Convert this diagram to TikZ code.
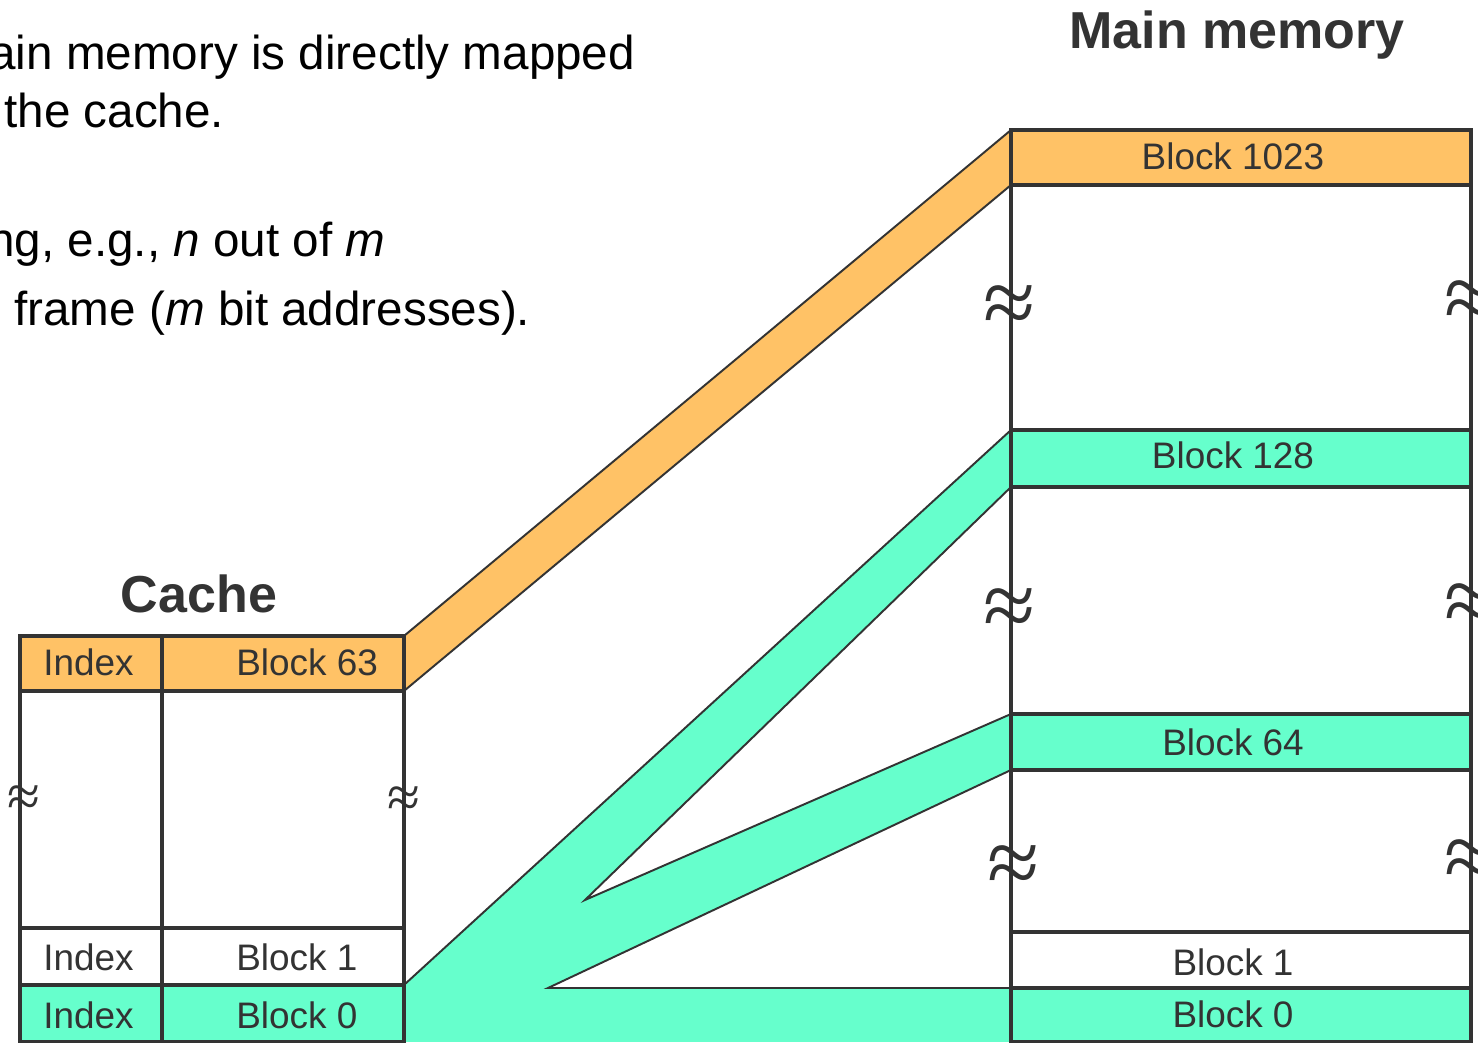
\documentclass[tikz,border=0pt]{standalone}
\usepackage{fontspec}
\setmainfont{Liberation Sans}
\newfontfamily\breakfont{Liberation Serif}
\definecolor{ink}{HTML}{333333}
\definecolor{hotblock}{HTML}{FFC266}
\definecolor{mapblock}{HTML}{66FFCC}
\pgfdeclarelayer{bg}
\pgfsetlayers{bg,main}
\begin{document}
\begin{tikzpicture}[x=0.02cm,y=-0.02cm,
  cell/.style={rectangle,draw=ink,line width=2pt,inner sep=0pt,outer sep=0pt,anchor=north west},
  memcell/.style={cell,minimum width=9.2cm},
  idxcell/.style={cell,minimum width=2.84cm},
  blkcell/.style={cell,minimum width=4.84cm},
  band/.style={draw=ink,line width=1.1pt},
  lbl/.style={text=ink,font=\fontsize{21}{25}\selectfont,inner sep=0pt},
  title/.style={text=ink,font=\bfseries\fontsize{29.6}{35}\selectfont,inner sep=0pt,anchor=base},
  prose/.style={text=black,font=\fontsize{27.1}{32}\selectfont,inner sep=0pt,anchor=base west},
  breakbig/.style={text=ink,font=\breakfont\fontsize{54}{54}\selectfont,inner sep=0pt},
  breaksmall/.style={text=ink,font=\breakfont\fontsize{34}{34}\selectfont,inner sep=0pt}]

\path[use as bounding box] (0,0) rectangle (1478,1043);

% ---------- main memory column ----------
\node[memcell,fill=hotblock,minimum height=1.1cm]  (m1023) at (1011,130) {};
\node[memcell,minimum height=4.9cm]                (mgapA) at (1011,185) {};
\node[memcell,fill=mapblock,minimum height=1.14cm] (m128)  at (1011,430) {};
\node[memcell,minimum height=4.54cm]               (mgapB) at (1011,487) {};
\node[memcell,fill=mapblock,minimum height=1.12cm] (m64)   at (1011,714) {};
\node[memcell,minimum height=3.24cm]               (mgapC) at (1011,770) {};
\node[memcell,minimum height=1.12cm]               (m1)    at (1011,932) {};
\node[memcell,fill=mapblock,minimum height=1.08cm] (m0)    at (1011,988) {};

% ---------- cache column ----------
\node[idxcell,fill=hotblock,minimum height=1.1cm]  (c63i)  at (20,636) {};
\node[blkcell,fill=hotblock,minimum height=1.1cm]  (c63b)  at (162,636) {};
\node[idxcell,minimum height=4.74cm]               (cgapi) at (20,691) {};
\node[blkcell,minimum height=4.74cm]               (cgapb) at (162,691) {};
\node[idxcell,minimum height=1.14cm]               (c1i)   at (20,928) {};
\node[blkcell,minimum height=1.14cm]               (c1b)   at (162,928) {};
\node[idxcell,fill=mapblock,minimum height=1.14cm] (c0i)   at (20,985) {};
\node[blkcell,fill=mapblock,minimum height=1.14cm] (c0b)   at (162,985) {};

% ---------- mapping bands ----------
\coordinate (notchA) at (585,900);
\coordinate (notchB) at (548,988);
\begin{pgfonlayer}{bg}
  \fill[white] (0,0) rectangle (1478,1043);
  \fill[hotblock] (c63b.north east) -- (m1023.north west) -- (m1023.south west) -- (c63b.south east) -- cycle;
  \draw[band] (c63b.north east) -- (m1023.north west);
  \draw[band] (c63b.south east) -- (m1023.south west);
  \fill[mapblock] (c0b.north east) -- (m128.north west) -- (m128.south west) -- (notchA)
     -- (m64.north west) -- (m64.south west) -- (notchB) -- (m0.north west)
     -- (m0.south west) -- (c0b.south east) -- cycle;
  \draw[band] (c0b.north east) -- (m128.north west);
  \draw[band] (m128.south west) -- (notchA) -- (m64.north west);
  \draw[band] (m64.south west) -- (notchB) -- (m0.north west);
\end{pgfonlayer}

% ---------- labels ----------
\node[lbl,anchor=base] (l1023) at (1233,170)  {Block 1023};
\node[lbl,anchor=base] (l128)  at (1233,469)  {Block 128};
\node[lbl,anchor=base] (l64)   at (1233,755)  {Block 64};
\node[lbl,anchor=base] (l1)    at (1233,975)  {Block 1};
\node[lbl,anchor=base] (l0)    at (1233,1027) {Block 0};

\node[lbl,anchor=base west] (li63) at (43,676)   {Index};
\node[lbl,anchor=base west] (lb63) at (236,676)  {Block 63};
\node[lbl,anchor=base west] (li1)  at (43,970)   {Index};
\node[lbl,anchor=base west] (lb1)  at (236,970)  {Block 1};
\node[lbl,anchor=base west] (li0)  at (43,1028)  {Index};
\node[lbl,anchor=base west] (lb0)  at (236,1028) {Block 0};

% ---------- titles ----------
\node[title] (memtitle)   at (1237,49)  {Main memory};
\node[title] (cachetitle) at (199,613)  {Cache};

% ---------- running text ----------
\node[prose] (p1) at (-11,70)  {ain memory is directly mapped};
\node[prose] (p2) at (4,128)   {the cache.};
\node[prose] (p3) at (-12,257) {ng, e.g., \textit{n} out of \textit{m}};
\node[prose] (p4) at (14,326)  {frame (\textit{m} bit addresses).};

% ---------- break marks ----------
\node[breakbig] (bL1) at (1010,310) {≈};
\node[breakbig] (bR1) at (1471,305) {≈};
\node[breakbig] (bL2) at (1010,613) {≈};
\node[breakbig] (bR2) at (1471,608) {≈};
\node[breakbig] (bL3) at (1014,870) {≈};
\node[breakbig] (bR3) at (1471,864) {≈};
\node[breaksmall] (bcL) at (24,801)  {≈};
\node[breaksmall] (bcR) at (404,802) {≈};
\end{tikzpicture}
\end{document}
